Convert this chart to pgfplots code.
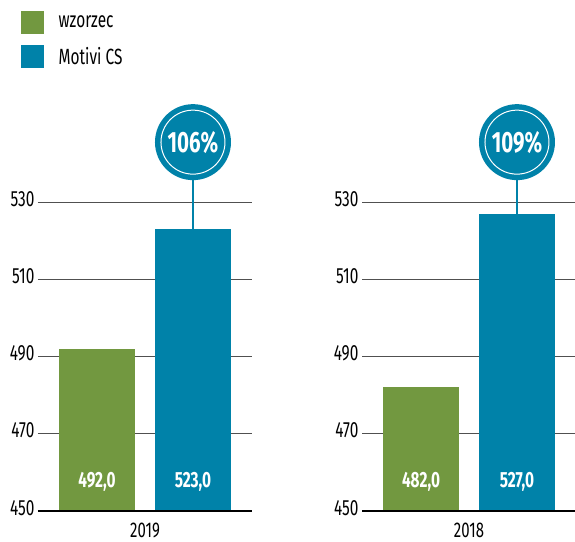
\documentclass[border=0pt]{standalone}
\usepackage{pgfplots}
\pgfplotsset{compat=1.18}
\usepackage{fontspec}
\setmainfont{Fira Sans}[FakeStretch=0.7]
\definecolor{cgreen}{RGB}{114,152,64}
\definecolor{cblue}{RGB}{0,130,169}
\definecolor{cgrid}{RGB}{80,80,80}
\pgfplotsset{
 panel/.style={
  width=160.5pt, height=231.75pt, scale only axis,
  anchor=south west,
  xmin=-0.615, xmax=1.615, ymin=450, ymax=530,
  ytick={450,470,490,510,530}, xtick=\empty,
  ymajorgrids, grid style={cgrid, line width=0.75pt},
  major tick length=0pt,
  axis line style={draw=none},
  clip mode=individual,
  /pgf/number format/assume math mode=true,
  yticklabel style={font=\fontsize{16.5}{16.5}\selectfont, anchor=east, inner sep=0pt, xshift=-2.5pt, yshift=2.5pt},
  xlabel style={font=\fontsize{16}{16}\selectfont, at={(axis description cs:0.5,0)}, anchor=north, inner sep=0pt, yshift=-8.5pt},
  ybar, bar shift=0pt, bar width=0.79,
  nodes near coords={\pgfmathprintnumber[fixed,fixed zerofill,precision=1,use comma]{\pgfplotspointmeta}},
  visualization depends on={rawy \as \rawy},
  every node near coord/.append style={font=\bfseries\fontsize{16.5}{16.5}\selectfont, text=white, anchor=center, yshift={(457.6-\rawy)*2.896875pt}},
  legend image code/.code={\fill[#1] (0pt,-8.6pt) rectangle (17.25pt,8.6pt);},
 }
}
\begin{document}
\begin{tikzpicture}
\begin{axis}[panel, at={(28.5pt,23.25pt)}, xlabel={2019},
  legend style={at={(-0.0794,1.618)}, anchor=north west, draw=none, fill=none, inner sep=0pt, outer sep=0pt, row sep=8.25pt, column sep=11pt, nodes={inner sep=0pt, anchor=west}, font=\fontsize{16.5}{16.5}\selectfont},
  legend cell align=left]
\addplot[fill=cgreen, draw=none] coordinates {(0,492)};
\addlegendentry{wzorzec}
\addplot[fill=cblue, draw=none] coordinates {(1,523)};
\addlegendentry{Motivi CS}
\draw[black, line width=1.5pt] (rel axis cs:0,0) -- (rel axis cs:1,0);
\draw[cblue, line width=1.1pt] (axis cs:1,523) -- (axis cs:1,545.5);
\node[circle, fill=cblue, minimum size=57pt, inner sep=0pt] (c1) at (axis cs:1,545.5) {};
\draw[white, line width=0.75pt] (c1.center) circle[radius=24pt];
\node[text=white, font=\bfseries\fontsize{22}{22}\selectfont] at (c1.center) {106\%};
\end{axis}
\begin{axis}[panel, at={(271.5pt,23.25pt)}, xlabel={2018}]
\addplot[fill=cgreen, draw=none] coordinates {(0,482)};
\addplot[fill=cblue, draw=none] coordinates {(1,527)};
\draw[black, line width=1.5pt] (rel axis cs:0,0) -- (rel axis cs:1,0);
\draw[cblue, line width=1.1pt] (axis cs:1,527) -- (axis cs:1,545.5);
\node[circle, fill=cblue, minimum size=57pt, inner sep=0pt] (c2) at (axis cs:1,545.5) {};
\draw[white, line width=0.75pt] (c2.center) circle[radius=24pt];
\node[text=white, font=\bfseries\fontsize{22}{22}\selectfont] at (c2.center) {109\%};
\end{axis}
\pgfresetboundingbox
\path[use as bounding box] (0,0) rectangle (431.25pt,406.5pt);
\end{tikzpicture}
\end{document}
